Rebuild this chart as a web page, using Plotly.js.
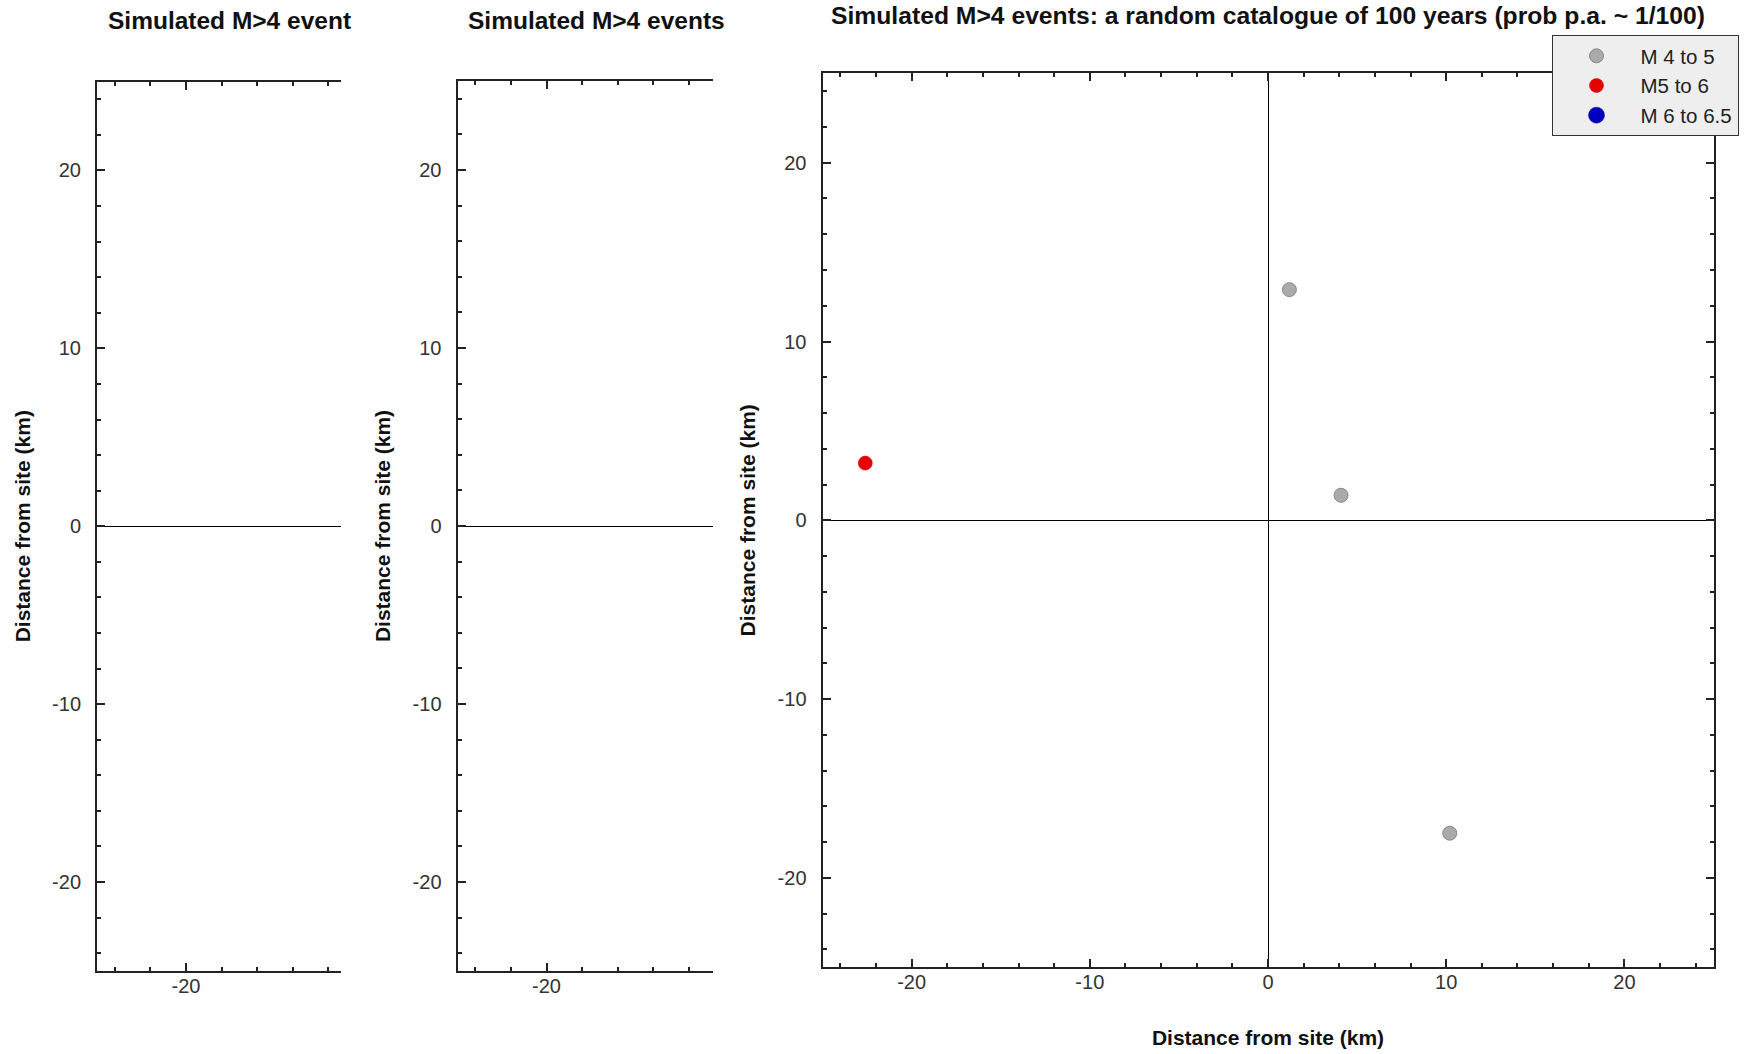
<!DOCTYPE html>
<html>
<head>
<meta charset="utf-8">
<script src="https://cdn.plot.ly/plotly-3.0.1.min.js"></script>
<style>
html,body{margin:0;padding:0;background:#fff;}
#chart{width:1754px;height:1054px;}
</style>
</head>
<body>
<div id="chart"></div>
<script>
// ---- data ----
const titleText = "Simulated M>4 events: a random catalogue of 100 years (prob p.a. ~ 1/100)";
const clippedTitle1 = "Simulated M>4 event";
const clippedTitle2 = "Simulated M>4 events";
const axisTitle = "Distance from site (km)";
const seriesNames = ["M 4 to 5", "M5 to 6", "M 6 to 6.5"];
const m4x = [1.2, 4.1, 10.2];
const m4y = [12.9, 1.4, -17.5];
const m5x = [-22.6];
const m5y = [3.2];
const m6x = [];   // no M6+ events in this catalogue (legend entry only)
const m6y = [];
const tickVals = [-20, -10, 0, 10, 20];

// ---- layout helpers ----
const W = 1754, H = 1054;
const px = v => v / W;
const py = v => 1 - v / H;
const FONT = "Liberation Sans, Arial, Helvetica, sans-serif";
const LINE = "#222";

function baseAxis(extra) {
  return Object.assign({
    showgrid: false,
    ticks: "inside",
    ticklen: 8,
    tickwidth: 1.5,
    tickcolor: LINE,
    showline: true,
    linecolor: LINE,
    linewidth: 2,
    tickmode: "array",
    tickvals: tickVals,
    ticktext: tickVals.map(String),
    minor: {dtick: 2, tick0: 0, ticks: "inside", ticklen: 4, tickwidth: 1.5, tickcolor: LINE, showgrid: false},
    tickfont: {family: FONT, size: 20, color: "#333"},
    zeroline: true,
    zerolinecolor: "#000",
    zerolinewidth: 1,
    fixedrange: true
  }, extra);
}

const yTitle = {text: "<b>" + axisTitle + "</b>", font: {family: FONT, size: 21, color: "#111"}, standoff: 16};

const layout = {
  width: W, height: H,
  margin: {l: 0, r: 0, t: 0, b: 0},
  paper_bgcolor: "#fff",
  plot_bgcolor: "#fff",
  showlegend: true,
  title: {
    text: "<b>" + titleText + "</b>",
    x: px(1268), xanchor: "center", xref: "paper",
    y: py(15), yanchor: "middle", yref: "paper",
    font: {family: FONT, size: 24.7, color: "#111"}
  },
  // panel 1 (partly hidden)
  xaxis: baseAxis({domain: [px(97), px(341)], range: [-25, -25 + 244 / 17.8], mirror: "ticks", anchor: "y", ticklabelstandoff: -4}),
  yaxis: baseAxis({domain: [py(971), py(81.5)], range: [-25, 25], mirror: false, anchor: "x", ticklabelstandoff: 10, title: yTitle}),
  // panel 2 (partly hidden)
  xaxis2: baseAxis({domain: [px(457.5), px(712.5)], range: [-25, -25 + 255 / 17.8], mirror: "ticks", anchor: "y2", ticklabelstandoff: -4}),
  yaxis2: baseAxis({domain: [py(971), py(81)], range: [-25, 25], mirror: false, anchor: "x2", ticklabelstandoff: 10, title: yTitle}),
  // panel 3 (full)
  xaxis3: baseAxis({domain: [px(822.5), px(1713.5)], range: [-25, 25], mirror: "ticks", anchor: "y3", ticklabelstandoff: -4,
    title: {text: "<b>" + axisTitle + "</b>", font: {family: FONT, size: 21, color: "#111"}, standoff: 38}}),
  yaxis3: baseAxis({domain: [py(967.3), py(73.3)], range: [-25, 25], mirror: "ticks", anchor: "x3", ticklabelstandoff: 10, title: yTitle}),
  legend: {
    x: px(1551.5), xanchor: "left", xref: "paper",
    y: py(35), yanchor: "top", yref: "paper",
    bgcolor: "#eeeeee", bordercolor: "#333", borderwidth: 1,
    font: {family: FONT, size: 20.5, color: "#222"},
    itemsizing: "trace", itemwidth: 78,
    entrywidth: 106, entrywidthmode: "pixels",
    traceorder: "normal"
  },
  annotations: [
    {text: "<b>" + clippedTitle1 + "</b>", xref: "paper", yref: "paper", x: px(106), y: py(21),
     xanchor: "left", yanchor: "middle", showarrow: false, font: {family: FONT, size: 24.5, color: "#111"}},
    {text: "<b>" + clippedTitle2 + "</b>", xref: "paper", yref: "paper", x: px(466), y: py(21),
     xanchor: "left", yanchor: "middle", showarrow: false, font: {family: FONT, size: 24.5, color: "#111"}}
  ]
};

const traces = [
  {type: "scatter", mode: "markers", x: m4x, y: m4y, xaxis: "x3", yaxis: "y3", name: seriesNames[0],
   marker: {size: 14, color: "#aaaaaa", line: {color: "#888888", width: 1}}, hoverinfo: "x+y"},
  {type: "scatter", mode: "markers", x: m5x, y: m5y, xaxis: "x3", yaxis: "y3", name: seriesNames[1],
   marker: {size: 14, color: "#e60000", line: {color: "#d00000", width: 0.5}}, hoverinfo: "x+y"},
  {type: "scatter", mode: "markers", x: m6x.length ? m6x : [null], y: m6y.length ? m6y : [null], xaxis: "x3", yaxis: "y3", name: seriesNames[2],
   marker: {size: 22, color: "#0000bb", line: {color: "#0000aa", width: 0.5}}, hoverinfo: "x+y"},
  // empty placeholders so panels 1 and 2 have their axes
  {type: "scatter", mode: "markers", x: [], y: [], xaxis: "x", yaxis: "y", showlegend: false},
  {type: "scatter", mode: "markers", x: [], y: [], xaxis: "x2", yaxis: "y2", showlegend: false}
];

Plotly.newPlot("chart", traces, layout, {displayModeBar: false});
</script>
</body>
</html>
